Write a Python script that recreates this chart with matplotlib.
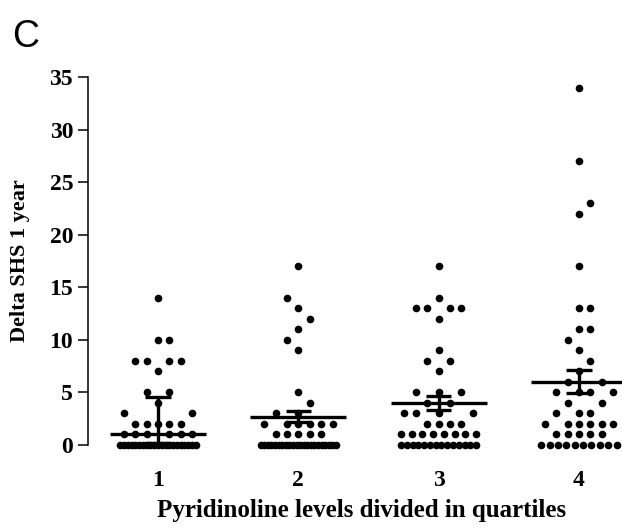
import numpy as np
import matplotlib
matplotlib.use("Agg")
import matplotlib.pyplot as plt

# values seen in each quartile and how many dots sit at each value
q1_values = [0, 1, 2, 3, 4, 5, 7, 8, 10, 14]
q1_counts = [21, 6, 5, 2, 1, 2, 1, 4, 2, 1]
q2_values = [0, 1, 2, 3, 4, 5, 9, 10, 11, 12, 13, 14, 17]
q2_counts = [22, 5, 6, 2, 1, 1, 1, 1, 1, 1, 1, 1, 1]
q3_values = [0, 1, 2, 3, 4, 5, 7, 8, 9, 12, 13, 14, 17]
q3_counts = [14, 8, 4, 4, 2, 3, 1, 2, 1, 1, 4, 1, 1]
q4_values = [0, 1, 2, 3, 4, 5, 6, 7, 8, 9, 10, 11, 13, 17, 22, 23, 27, 34]
q4_counts = [10, 5, 6, 3, 2, 4, 2, 1, 1, 1, 1, 2, 2, 1, 1, 1, 1, 1]

# centre line and error bar ends as drawn
centre = [1.0, 2.7, 4.0, 5.95]
err_low = [0.2, 2.15, 3.3, 4.9]
err_high = [4.55, 3.2, 4.7, 7.1]

tick_labels = ["1", "2", "3", "4"]
groups = [(q1_values, q1_counts), (q2_values, q2_counts),
          (q3_values, q3_counts), (q4_values, q4_counts)]

W, H, DPI = 622, 528, 100
fig = plt.figure(figsize=(W / DPI, H / DPI), dpi=DPI)
left, bottom = 88 / W, (H - 445) / H
ax = fig.add_axes([left, bottom, 1 - left, (445 - 77) / H])
xlim = (1 - (158 - 88) / 140.3, 1 + (622 - 158) / 140.3)
ax.set_xlim(*xlim)
ax.set_ylim(0, 35)

px_per_x = (W - 88) / (xlim[1] - xlim[0])
slot = 11.4 / px_per_x


def row_offsets(vals, counts):
    # prism-like layout: integer slots, avoid the slots used in the row below
    placed = {}
    xs, ys = [], []
    side = 1
    for v, n in zip(vals, counts):
        if n > 7:
            offs = list(np.linspace(-3.3, 3.3, n))
        else:
            order = [0]
            for k in (1, 2, 3):
                order += [side * k, -side * k]
            below = set(placed.get(v - 1, []))
            offs = []
            for _ in range(n):
                free = [k for k in order if k not in offs and k not in below]
                if not free:
                    free = [k for k in order if k not in offs]
                offs.append(free[0])
            if n == 1 and offs[0] != 0:
                side = -side
        placed[v] = offs
        xs += offs
        ys += [v] * n
    return np.array(xs), np.array(ys)


serif = "Liberation Serif"
for i, (vals, counts) in enumerate(groups):
    pos = i + 1
    dx, yv = row_offsets(vals, counts)
    ax.plot(pos + dx * slot, yv, "o", ms=5.5, color="black", mew=0,
            clip_on=False, zorder=2)
    ax.hlines(centre[i], pos - 0.342, pos + 0.342, color="black", lw=2.4,
              zorder=3, clip_on=False)
    ax.vlines(pos, err_low[i], err_high[i], color="black", lw=2.4, zorder=3,
              clip_on=False)
    ax.hlines([err_low[i], err_high[i]], pos - 0.09, pos + 0.09,
              color="black", lw=2.4, zorder=3, clip_on=False)

for s in ["top", "right", "bottom"]:
    ax.spines[s].set_visible(False)
ax.spines["left"].set_bounds(0, 35)
ax.spines["left"].set_linewidth(1.1)

ax.set_yticks(range(0, 36, 5))
ax.set_xticks(range(1, 5))
ax.set_xticklabels(tick_labels)
ax.tick_params(axis="y", direction="out", length=7.2, width=1.1, pad=3.5)
ax.tick_params(axis="x", length=0, pad=18)
for lab in ax.get_xticklabels() + ax.get_yticklabels():
    lab.set_fontfamily(serif)
    lab.set_fontweight("bold")
    lab.set_fontsize(17)

ax.set_xlabel("Pyridinoline levels divided in quartiles", fontfamily=serif,
              fontweight="bold", fontsize=18)
ax.xaxis.set_label_coords((362 - 88) / (W - 88), -(511 - 445) / 368, transform=ax.transAxes)
ax.xaxis.label.set_va("center")
ax.set_ylabel("Delta SHS 1 year", fontfamily=serif, fontweight="bold",
              fontsize=16)
ax.yaxis.set_label_coords(-(88 - 20) / (W - 88), 0.5)
ax.yaxis.label.set_va("center")

fig.text(12 / W, 1 - 47 / H, "C", fontfamily="Liberation Sans", fontsize=27,
         va="baseline", ha="left")

fig.savefig("out.png", dpi=DPI)
